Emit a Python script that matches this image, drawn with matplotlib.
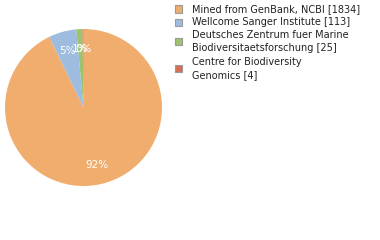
import matplotlib
matplotlib.use("Agg")
import matplotlib.pyplot as plt
from matplotlib.patches import Rectangle

### Data
labels = [
    "Mined from GenBank, NCBI [1834]",
    "Wellcome Sanger Institute [113]",
    "Deutsches Zentrum fuer Marine\nBiodiversitaetsforschung [25]",
    "Centre for Biodiversity\nGenomics [4]",
]
counts = [1834, 113, 25, 4]
colors = ["#F0AD6E", "#9DBCE0", "#9CC46C", "#DA6E55"]

W, H = 380, 240
fig = plt.figure(figsize=(W / 100, H / 100), dpi=100)

# pie area, in pixels: centre (83.5, 107.5), radius 78.5
cx, cy, r = 83.5, 107.5, 78.5
ax = fig.add_axes([(cx - r) / W, 1 - (cy + r) / H, 2 * r / W, 2 * r / H])

total = sum(counts)
wedges, texts, autotexts = ax.pie(
    counts,
    colors=colors,
    startangle=90,
    counterclock=False,
    autopct=lambda p: f"{int(p)}%",
    pctdistance=0.75,
    wedgeprops={"linewidth": 0},
    textprops={"color": "white", "fontsize": 7.5},
)
ax.set_aspect("equal")
ax.set_xlim(-1, 1)
ax.set_ylim(-1, 1)

### Legend (drawn by hand so the spacing matches)
legend_y = [9, 22, 41.5, 68.5]
for lab, col, y in zip(labels, colors, legend_y):
    fig.patches.append(
        Rectangle(
            (175 / W, 1 - (y + 3.5) / H), 7 / W, 7 / H,
            transform=fig.transFigure, facecolor=col,
            edgecolor="#999999", linewidth=0.8,
        )
    )
    fig.text(192 / W, 1 - y / H, lab, fontsize=7, color="#222222",
             va="center", ha="left", linespacing=1.35)

fig.savefig("out.png", dpi=100)
